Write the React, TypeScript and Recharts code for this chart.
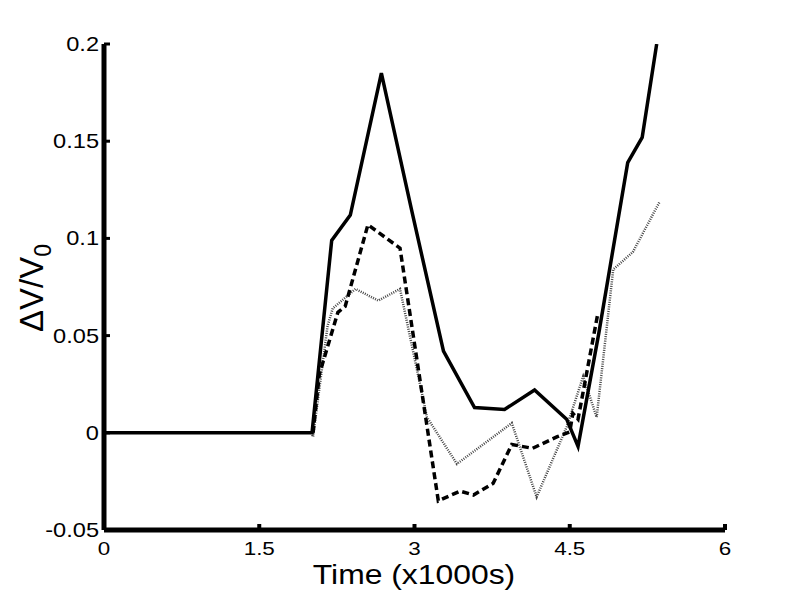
import { LineChart, Line, XAxis, YAxis } from "recharts";

// time in x1000 s, values are dV/V0
const solidT = [0, 2.01, 2.2, 2.38, 2.68, 2.97, 3.28, 3.58, 3.87, 4.16, 4.47, 4.58, 4.78, 5.06, 5.2, 5.34];
const solidV = [0, 0, 0.099, 0.112, 0.185, 0.115, 0.042, 0.013, 0.012, 0.022, 0.007, -0.007, 0.051, 0.139, 0.152, 0.2];

const dashedT = [2.02, 2.08, 2.26, 2.33, 2.55, 2.86, 3.23, 3.44, 3.57, 3.76, 3.94, 4.14, 4.38, 4.5, 4.53, 4.58, 4.77];
const dashedV = [0, 0.03, 0.062, 0.065, 0.107, 0.095, -0.035, -0.03, -0.032, -0.026, -0.006, -0.008, -0.002, 0.0005, 0.01, 0.007, 0.061];

const dottedT = [2.0, 2.02, 2.16, 2.21, 2.43, 2.65, 2.86, 3.12, 3.41, 3.94, 4.18, 4.47, 4.63, 4.76, 4.92, 5.11, 5.37];
const dottedV = [0, -0.002, 0.055, 0.064, 0.074, 0.068, 0.074, 0.008, -0.016, 0.005, -0.033, 0.003, 0.029, 0.008, 0.084, 0.093, 0.119];

const xTicks = [0, 1.5, 3, 4.5, 6];
const yTicks = [-0.05, 0, 0.05, 0.1, 0.15, 0.2];

const zip = (ts: number[], vs: number[]) => ts.map((t, i) => ({ t, v: vs[i] }));
const solid = zip(solidT, solidV);
const dashed = zip(dashedT, dashedV);
const dotted = zip(dottedT, dottedV);

const FONT = "'Liberation Sans', Arial, sans-serif";

function YTick(props: any) {
  const { x, y, payload } = props;
  return (
    <g>
      <line x1={x} x2={x + 6} y1={y} y2={y} stroke="#000" strokeWidth={3} />
      <text
        transform={`translate(${x - 5},${y + 7}) scale(1.18,1)`}
        textAnchor="end"
        fontSize={20}
        fontFamily={FONT}
        fill="#000"
      >
        {String(payload.value)}
      </text>
    </g>
  );
}

function XTick(props: any) {
  const { x, y, payload } = props;
  return (
    <g>
      <line x1={x} x2={x} y1={y} y2={y - 6} stroke="#000" strokeWidth={4} />
      <text
        transform={`translate(${x},${y + 25}) scale(1.18,1)`}
        textAnchor="middle"
        fontSize={19}
        fontFamily={FONT}
        fill="#000"
      >
        {String(payload.value)}
      </text>
    </g>
  );
}

export default function App() {
  return (
    <div style={{ position: "absolute", left: 0, top: 0, background: "#fff" }}>
      <LineChart width={797} height={597} margin={{ top: 44, right: 72, bottom: 0, left: 0 }}>
        <XAxis
          dataKey="t"
          type="number"
          domain={[0, 6]}
          ticks={xTicks}
          height={67}
          tickSize={0}
          tickMargin={0}
          tickLine={false}
          tick={<XTick />}
          axisLine={{ stroke: "#000", strokeWidth: 5 }}
          allowDataOverflow
          label={{
            content: () => (
              <text
                transform="translate(414,584) scale(1.18,1)"
                textAnchor="middle"
                fontSize={27}
                fontFamily={FONT}
                fill="#000"
              >
                Time (x1000s)
              </text>
            ),
          }}
        />
        <YAxis
          type="number"
          domain={[-0.05, 0.2]}
          ticks={yTicks}
          width={104}
          tickSize={0}
          tickMargin={0}
          tickLine={false}
          tick={<YTick />}
          axisLine={{ stroke: "#000", strokeWidth: 5 }}
          allowDataOverflow
          label={{
            content: () => (
              <text
                transform="translate(43,288) rotate(-90)"
                textAnchor="middle"
                fontSize={33}
                fontFamily={FONT}
                fill="#000"
              >
                ΔV/V
                <tspan fontSize={23} dy={8}>
                  0
                </tspan>
              </text>
            ),
          }}
        />
        <Line
          data={dotted}
          dataKey="v"
          stroke="#444"
          strokeWidth={2.5}
          strokeDasharray="1 1.3"
          dot={false}
          isAnimationActive={false}
          type="linear"
        />
        <Line
          data={dashed}
          dataKey="v"
          stroke="#000"
          strokeWidth={3.5}
          strokeDasharray="7 4"
          dot={false}
          isAnimationActive={false}
          type="linear"
        />
        <Line
          data={solid}
          dataKey="v"
          stroke="#000"
          strokeWidth={3.5}
          dot={false}
          isAnimationActive={false}
          type="linear"
        />
      </LineChart>
    </div>
  );
}
